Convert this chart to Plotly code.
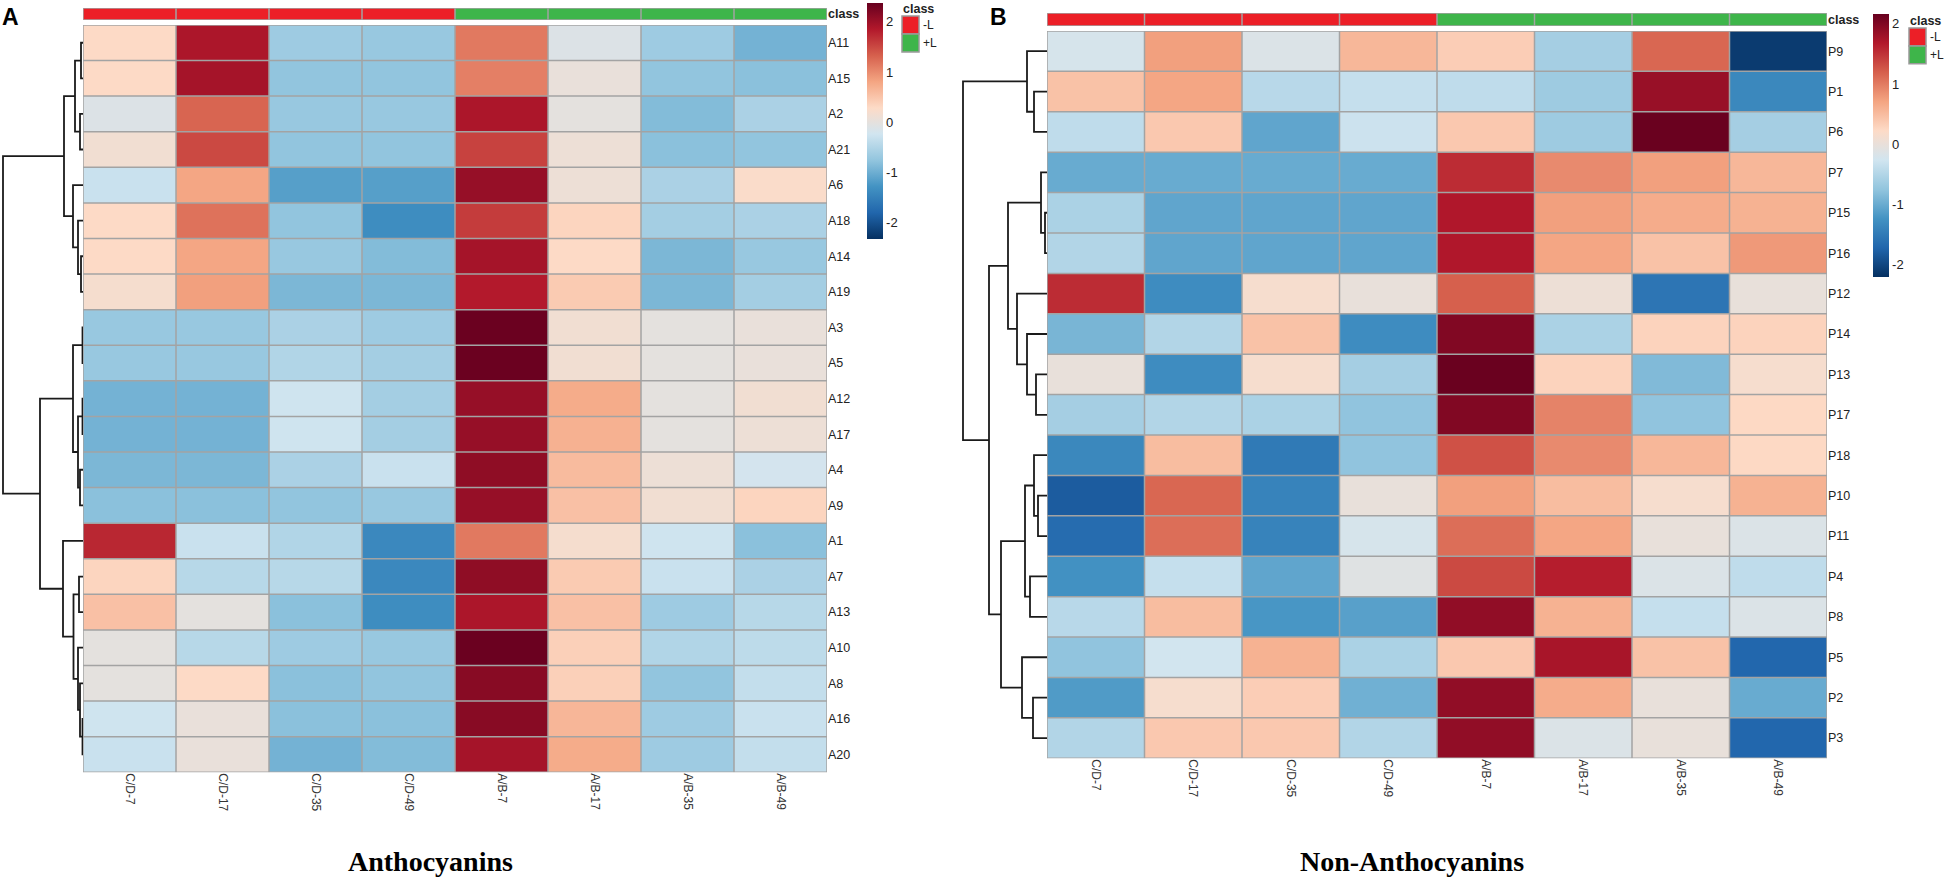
import plotly.graph_objects as go

W, H = 1949, 881

samples = ["C/D-7", "C/D-17", "C/D-35", "C/D-49", "A/B-7", "A/B-17", "A/B-35", "A/B-49"]
sample_class = ["-L", "-L", "-L", "-L", "+L", "+L", "+L", "+L"]

# Anthocyanins (row order as clustered in the picture)
antho_rows = ["A11", "A15", "A2", "A21", "A6", "A18", "A14", "A19", "A3", "A5", "A12",
              "A17", "A4", "A9", "A1", "A7", "A13", "A10", "A8", "A16", "A20"]
antho_vals = [
    [0.30, 1.90, -0.65, -0.70, 1.15, -0.10, -0.65, -0.95],
    [0.30, 1.95, -0.75, -0.75, 1.10, 0.05, -0.75, -0.80],
    [-0.10, 1.30, -0.70, -0.70, 1.90, 0.00, -0.85, -0.55],
    [0.15, 1.50, -0.75, -0.75, 1.55, 0.10, -0.80, -0.75],
    [-0.30, 0.80, -1.15, -1.15, 2.05, 0.10, -0.55, 0.25],
    [0.30, 1.20, -0.75, -1.35, 1.60, 0.35, -0.60, -0.55],
    [0.30, 0.80, -0.70, -0.85, 1.95, 0.30, -0.90, -0.70],
    [0.20, 0.85, -0.90, -0.90, 1.85, 0.45, -0.90, -0.60],
    [-0.70, -0.70, -0.55, -0.65, 2.35, 0.15, 0.00, 0.05],
    [-0.70, -0.70, -0.50, -0.60, 2.35, 0.15, 0.00, 0.05],
    [-0.95, -0.95, -0.25, -0.60, 2.05, 0.75, 0.00, 0.15],
    [-0.95, -0.95, -0.25, -0.60, 2.05, 0.70, 0.00, 0.10],
    [-0.90, -0.90, -0.55, -0.30, 2.10, 0.60, 0.10, -0.20],
    [-0.80, -0.80, -0.75, -0.70, 2.05, 0.55, 0.15, 0.35],
    [1.75, -0.30, -0.50, -1.40, 1.15, 0.20, -0.25, -0.80],
    [0.35, -0.45, -0.45, -1.40, 2.10, 0.45, -0.30, -0.55],
    [0.55, 0.00, -0.80, -1.35, 1.90, 0.55, -0.65, -0.45],
    [0.00, -0.45, -0.65, -0.70, 2.35, 0.40, -0.50, -0.40],
    [0.00, 0.30, -0.80, -0.75, 2.15, 0.40, -0.75, -0.35],
    [-0.25, 0.05, -0.80, -0.80, 2.15, 0.65, -0.65, -0.30],
    [-0.30, 0.05, -0.95, -0.85, 1.95, 0.75, -0.65, -0.35],
]
# merges: (left, right, height); ints refer to earlier merges
antho_tree = [
    ("A11", "A15", 2), ("A2", "A21", 3), (0, 1, 8),
    ("A14", "A19", 2), ("A18", 3, 5), ("A6", 4, 10), (2, 5, 19),
    ("A3", "A5", 0.5), ("A12", "A17", 0.5), ("A4", "A9", 3), (8, 9, 5), (7, 10, 10),
    ("A7", "A13", 4), ("A16", "A20", 0.5), ("A8", 13, 3), ("A10", 14, 5), (12, 15, 9.5),
    ("A1", 16, 20), (11, 17, 43), (6, 18, 80),
]

# Non-anthocyanins
non_rows = ["P9", "P1", "P6", "P7", "P15", "P16", "P12", "P14", "P13", "P17", "P18",
            "P10", "P11", "P4", "P8", "P5", "P2", "P3"]
non_vals = [
    [-0.20, 0.75, -0.15, 0.55, 0.35, -0.60, 1.15, -2.10],
    [0.45, 0.70, -0.45, -0.35, -0.40, -0.65, 1.85, -1.35],
    [-0.40, 0.40, -1.05, -0.30, 0.40, -0.65, 2.15, -0.60],
    [-1.00, -1.00, -1.00, -1.00, 1.55, 0.90, 0.75, 0.55],
    [-0.55, -1.05, -1.05, -1.05, 1.70, 0.75, 0.65, 0.60],
    [-0.50, -1.05, -1.05, -1.05, 1.70, 0.70, 0.45, 0.80],
    [1.55, -1.30, 0.15, 0.00, 1.20, 0.05, -1.55, 0.00],
    [-0.90, -0.50, 0.45, -1.30, 2.00, -0.55, 0.30, 0.30],
    [0.00, -1.30, 0.15, -0.60, 2.15, 0.30, -0.85, 0.15],
    [-0.60, -0.50, -0.55, -0.75, 2.00, 0.95, -0.75, 0.25],
    [-1.35, 0.50, -1.50, -0.75, 1.30, 0.90, 0.55, 0.25],
    [-1.80, 1.15, -1.40, 0.00, 0.75, 0.50, 0.15, 0.60],
    [-1.65, 1.10, -1.40, -0.20, 1.10, 0.70, 0.00, -0.15],
    [-1.25, -0.35, -1.05, -0.10, 1.35, 1.65, -0.15, -0.40],
    [-0.45, 0.50, -1.20, -1.10, 1.90, 0.60, -0.35, -0.15],
    [-0.75, -0.25, 0.60, -0.55, 0.40, 1.75, 0.45, -1.70],
    [-1.15, 0.15, 0.35, -0.95, 1.90, 0.65, 0.00, -1.00],
    [-0.50, 0.40, 0.40, -0.50, 1.90, -0.15, 0.00, -1.70],
]
non_tree = [
    ("P1", "P6", 13), ("P9", 0, 20),
    ("P15", "P16", 2), ("P7", 2, 6),
    ("P13", "P17", 11), ("P14", 4, 20), ("P12", 5, 30), (3, 6, 39),
    ("P10", "P11", 9), ("P18", 8, 13), ("P4", "P8", 17), (9, 10, 22),
    ("P2", "P3", 14), ("P5", 12, 25), (11, 13, 46), (7, 14, 58), (1, 15, 84),
]

cbar_ticks = [-2, -1, 0, 1, 2]

brewer = ["#053061", "#2166AC", "#4393C3", "#92C5DE", "#D1E5F0",
          "#FDDBC7", "#F4A582", "#D6604D", "#B2182B", "#67001F"]
rdbu = [[i / (len(brewer) - 1), c] for i, c in enumerate(brewer)]
class_colors = {"-L": "#EC1F27", "+L": "#3EB54A"}
grid_col = "#A3A3A3"
sans = "Liberation Sans, Arial, sans-serif"


def px_x(v):
    return v / W


def px_y(v):
    return 1 - v / H


def dendro_xy(tree, rows):
    pos = {r: i for i, r in enumerate(rows)}
    hgt = {r: 0.0 for r in rows}
    xs, ys = [], []
    for k, (a, b, h) in enumerate(tree):
        xs += [hgt[a], h, h, hgt[b], None]
        ys += [pos[a], pos[a], pos[b], pos[b], None]
        pos[k] = (pos[a] + pos[b]) / 2
        hgt[k] = h
    return xs, ys


panels = [
    dict(rows=antho_rows, vals=antho_vals, tree=antho_tree, title="Anthocyanins", letter="A",
         dendro=(3, 83), heat_x=(83, 827), heat_y=(24, 773), bar_y=(7, 19),
         cbar_x=867, cbar_y=(2, 238), zr=(-2.32, 2.38), letter_x=0, title_x=430,
         leg_x=902, leg_y=15),
    dict(rows=non_rows, vals=non_vals, tree=non_tree, title="Non-Anthocyanins", letter="B",
         dendro=(963, 1047), heat_x=(1047, 1827), heat_y=(30, 759), bar_y=(12, 25),
         cbar_x=1873, cbar_y=(13, 276), zr=(-2.2, 2.17), letter_x=988, title_x=1412,
         leg_x=1909, leg_y=27),
]

fig = go.Figure()
layout = dict(width=W, height=H, margin=dict(l=0, r=0, t=0, b=0),
              paper_bgcolor="white", plot_bgcolor="white", showlegend=False)
shapes, annotations = [], []
ncol = len(samples)

for p_i, p in enumerate(panels):
    n = len(p["rows"])
    dx, dy = 2 * p_i + 1, 3 * p_i + 1
    hx, hy, cy = dx + 1, dy + 1, dy + 2
    sfx = lambda k: "" if k == 1 else str(k)

    # dendrogram
    xs, ys = dendro_xy(p["tree"], p["rows"])
    root_h = p["tree"][-1][2]
    d0, d1 = p["dendro"]
    pad = (d1 - d0) / root_h
    fig.add_trace(go.Scatter(x=xs, y=ys, mode="lines", line=dict(color="#1a1a1a", width=1.8),
                             hoverinfo="skip", xaxis="x" + sfx(dx), yaxis="y" + sfx(dy)))
    layout["xaxis" + sfx(dx)] = dict(domain=[px_x(d0 - pad), px_x(d1)], range=[root_h + 1, 0],
                                     visible=False, anchor="y" + sfx(dy))
    layout["yaxis" + sfx(dy)] = dict(domain=[px_y(p["heat_y"][1]), px_y(p["heat_y"][0])],
                                     range=[n - 0.5, -0.5], visible=False, anchor="x" + sfx(dx))

    # heatmap
    cy_mid = (p["cbar_y"][0] + p["cbar_y"][1]) / 2
    fig.add_trace(go.Heatmap(
        z=p["vals"], x=list(range(ncol)), y=list(range(n)), colorscale=rdbu,
        zmin=p["zr"][0], zmax=p["zr"][1], xaxis="x" + sfx(hx), yaxis="y" + sfx(hy),
        colorbar=dict(x=px_x(p["cbar_x"]), xanchor="left", xpad=0, ypad=0,
                      y=px_y(cy_mid), yanchor="middle", lenmode="pixels",
                      len=p["cbar_y"][1] - p["cbar_y"][0], thickness=16, outlinewidth=0,
                      tickvals=cbar_ticks, ticktext=[str(t) for t in cbar_ticks], ticks="",
                      tickfont=dict(family=sans, size=13, color="#222"))))
    layout["xaxis" + sfx(hx)] = dict(
        domain=[px_x(p["heat_x"][0]), px_x(p["heat_x"][1])], range=[-0.5, ncol - 0.5],
        tickvals=list(range(ncol)), ticktext=samples, tickangle=90, showgrid=False,
        zeroline=False, ticks="", tickfont=dict(family=sans, size=12, color="#333"),
        anchor="y" + sfx(hy))
    layout["yaxis" + sfx(hy)] = dict(
        domain=[px_y(p["heat_y"][1]), px_y(p["heat_y"][0])], range=[n - 0.5, -0.5],
        tickvals=list(range(n)), ticktext=p["rows"], side="right", showgrid=False,
        zeroline=False, ticks="", tickfont=dict(family=sans, size=12.5, color="#222"),
        anchor="x" + sfx(hx))

    # class bar
    fig.add_trace(go.Heatmap(
        z=[[0 if c == "-L" else 1 for c in sample_class]], x=list(range(ncol)), y=[0],
        colorscale=[[0, class_colors["-L"]], [1, class_colors["+L"]]], zmin=0, zmax=1,
        showscale=False, xaxis="x" + sfx(hx), yaxis="y" + sfx(cy)))
    layout["yaxis" + sfx(cy)] = dict(
        domain=[px_y(p["bar_y"][1]), px_y(p["bar_y"][0])], range=[-0.5, 0.5],
        tickvals=[0], ticktext=["<b>class</b>"], side="right", showgrid=False, zeroline=False,
        ticks="", tickfont=dict(family=sans, size=12.5, color="#222"), anchor="x" + sfx(hx))

    # cell borders
    line = dict(color=grid_col, width=1.5)
    for k in range(ncol + 1):
        shapes.append(dict(type="line", xref="x" + sfx(hx), yref="y" + sfx(hy),
                           x0=k - 0.5, x1=k - 0.5, y0=-0.5, y1=n - 0.5, line=line))
        shapes.append(dict(type="line", xref="x" + sfx(hx), yref="y" + sfx(cy),
                           x0=k - 0.5, x1=k - 0.5, y0=-0.5, y1=0.5, line=line))
    for k in range(n + 1):
        shapes.append(dict(type="line", xref="x" + sfx(hx), yref="y" + sfx(hy),
                           x0=-0.5, x1=ncol - 0.5, y0=k - 0.5, y1=k - 0.5, line=line))
    for k in (0, 1):
        shapes.append(dict(type="line", xref="x" + sfx(hx), yref="y" + sfx(cy),
                           x0=-0.5, x1=ncol - 0.5, y0=k - 0.5, y1=k - 0.5, line=line))

    # class legend
    lx, ly = p["leg_x"], p["leg_y"]
    annotations.append(dict(x=px_x(lx - 1), y=px_y(ly - 7), xref="paper", yref="paper",
                            text="<b>class</b>", showarrow=False, xanchor="left",
                            yanchor="middle", font=dict(family=sans, size=12.5, color="#222")))
    for j, lab in enumerate(["-L", "+L"]):
        shapes.append(dict(type="rect", xref="paper", yref="paper",
                           x0=px_x(lx), x1=px_x(lx + 17), y0=px_y(ly + 18 * j),
                           y1=px_y(ly + 18 * (j + 1)), fillcolor=class_colors[lab],
                           line=dict(color="#999", width=1.5)))
        annotations.append(dict(x=px_x(lx + 19), y=px_y(ly + 9 + 18 * j), xref="paper",
                                yref="paper", text=lab, showarrow=False, xanchor="left",
                                yanchor="middle", font=dict(family=sans, size=12, color="#222")))

    # panel letter and title
    annotations.append(dict(x=px_x(p["letter_x"]), y=px_y(16), xref="paper", yref="paper",
                            text="<b>%s</b>" % p["letter"], showarrow=False, xanchor="left",
                            yanchor="middle", font=dict(family=sans, size=23, color="black")))
    annotations.append(dict(x=px_x(p["title_x"]), y=px_y(862), xref="paper", yref="paper",
                            text="<b>%s</b>" % p["title"], showarrow=False, xanchor="center",
                            yanchor="middle",
                            font=dict(family="Liberation Serif, Times New Roman, serif",
                                      size=28, color="black")))

layout["shapes"] = shapes
layout["annotations"] = annotations
fig.update_layout(**layout)
# the page body has a default 8px margin; drop it so the figure fills the window
fig.write_html("out.html", config={"displayModeBar": False},
               post_script="document.body.style.margin='0px';"
                           "document.body.style.overflow='hidden';")
